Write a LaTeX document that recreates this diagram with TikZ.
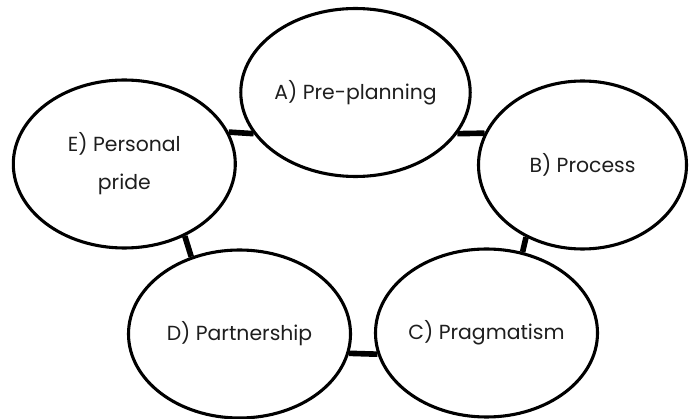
\documentclass[tikz,border=0pt]{standalone}
\usepackage{fontspec}
\setmainfont{Poppins}
\usepackage{tikz}
\usetikzlibrary{shapes.geometric}
\definecolor{ink}{RGB}{30, 30, 30}
\tikzstyle{stage} = [ellipse, draw=black, line width=2.2pt, fill=white, inner sep=0pt, minimum width=5.55cm, minimum height=4.2cm, text centered, text=ink, font=\fontsize{14.5}{27}\selectfont]
\tikzstyle{link} = [line width=4pt, black]

\begin{document}
\begin{tikzpicture}
    \useasboundingbox (0,0) rectangle (17.225,10.475);

    % Stages
    \node[stage] (pre) at (8.8875, 8.1625) {A) Pre-planning};
    \node[stage, minimum width=5.2cm] (proc) at (14.5625, 6.35) {B) Process};
    \node[stage] (prag) at (12.1625, 2.15) {C) Pragmatism};
    \node[stage] (part) at (5.9875, 2.125) {D) Partnership};
    \node[stage, align=center] (pride) at (3.1075, 6.375) {E) Personal\\pride};

    % Links between stages
    \draw[link] (pride.17) -- (pre.202);
    \draw[link] (pre.338) -- (proc.162);
    \draw[link] (proc.232) -- (prag.66);
    \draw[link] (prag.191) -- (part.350);
    \draw[link] (part.122) -- (pride.310);
\end{tikzpicture}
\end{document}
